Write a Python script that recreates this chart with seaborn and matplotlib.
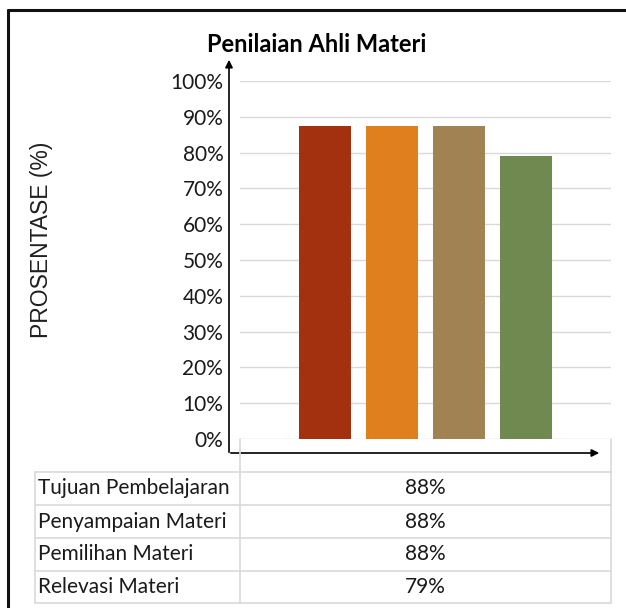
import matplotlib
matplotlib.use("Agg")
import matplotlib.pyplot as plt
import seaborn as sns
import pandas as pd
from matplotlib.lines import Line2D
from matplotlib.patches import FancyArrowPatch

# ---- data ----
judul = "Penilaian Ahli Materi"
label_y = "PROSENTASE (%)"
aspek = ["Tujuan Pembelajaran", "Penyampaian Materi", "Pemilihan Materi", "Relevasi Materi"]
nilai = [0.875, 0.875, 0.875, 0.79]
warna = ["#A3300F", "#E07F1E", "#A08253", "#708950"]
yticks = [0.0, 0.1, 0.2, 0.3, 0.4, 0.5, 0.6, 0.7, 0.8, 0.9, 1.0]

sns.set_theme(style="white")
plt.rcParams["font.family"] = ["Lato", "DejaVu Sans"]

W, H = 626, 608
fig = plt.figure(figsize=(W / 100, H / 100), dpi=100)
fig.patch.set_facecolor("white")


def fx(px):
    return px / W


def fy(py):
    return 1 - py / H


grid_c = "#D9D9D9"
text_c = "#1A1A1A"

# ---- chart ----
ax = fig.add_axes([fx(240), fy(439), fx(611) - fx(240), fy(81) - fy(439)])
df = pd.DataFrame({"kategori": [""] * len(aspek), "aspek": aspek, "nilai": nilai})
sns.barplot(data=df, x="kategori", y="nilai", hue="aspek", hue_order=aspek,
            palette=warna, saturation=1, width=0.722, gap=0.22, legend=False,
            errorbar=None, linewidth=0, ax=ax)
ax.set_xlim(-0.5, 0.5)
ax.set_ylim(0, 1)
ax.set_yticks(yticks)
ax.set_yticklabels([f"{v:.0%}" for v in yticks], fontsize=15, color=text_c)
ax.set_xticks([])
ax.set_xlabel("")
ax.set_ylabel("")
ax.grid(axis="y", color=grid_c, linewidth=1)
ax.set_axisbelow(True)
for s in ax.spines.values():
    s.set_visible(False)
ax.tick_params(axis="y", length=0, pad=12)
ax.patch.set_alpha(0)

# axis arrows
fig.add_artist(FancyArrowPatch((fx(229), fy(455)), (fx(229), fy(57)),
                               transform=fig.transFigure, arrowstyle="-|>",
                               mutation_scale=11, color="black", lw=1.2))
fig.add_artist(FancyArrowPatch((fx(228), fy(453)), (fx(602), fy(453)),
                               transform=fig.transFigure, arrowstyle="-|>",
                               mutation_scale=11, color="black", lw=1.2))

# titles
fig.text(fx(317), fy(45), judul, ha="center", va="center", fontsize=17,
         fontweight="bold", color="black")
fig.text(fx(42), fy(240), label_y, ha="center", va="center", rotation=90,
         fontsize=16.5, family=["Liberation Sans", "DejaVu Sans"], color="#1F1F1F")

# ---- data table ----
rows_y = [472, 505, 538, 571, 603]
x_left, x_div, x_right = 35, 240, 611


def fline(x0, y0, x1, y1):
    fig.add_artist(Line2D([fx(x0), fx(x1)], [fy(y0), fy(y1)],
                          transform=fig.transFigure, color=grid_c, lw=1.2))


for yy in rows_y:
    fline(x_left, yy, x_right, yy)
fline(x_left, rows_y[0], x_left, rows_y[-1])
fline(x_div, 439, x_div, rows_y[-1])
fline(x_right, 439, x_right, rows_y[-1])

for i, (nama, v) in enumerate(zip(aspek, nilai)):
    yc = (rows_y[i] + rows_y[i + 1]) / 2
    fig.text(fx(38), fy(yc), nama, ha="left", va="center", fontsize=15, color=text_c)
    fig.text(fx(425), fy(yc), f"{v:.0%}", ha="center", va="center", fontsize=15, color=text_c)

# outer frame (top and left)
fig.add_artist(Line2D([fx(8), fx(626)], [fy(10), fy(10)], transform=fig.transFigure,
                      color="#111111", lw=2.2))
fig.add_artist(Line2D([fx(8), fx(8)], [fy(10), fy(608)], transform=fig.transFigure,
                      color="#111111", lw=2.2))

fig.savefig("out.png", dpi=100, facecolor="white")
